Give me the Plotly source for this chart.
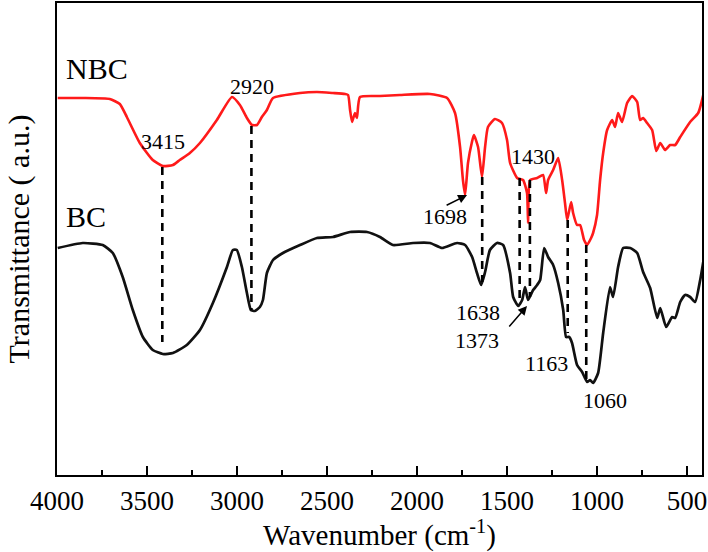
import plotly.graph_objects as go

# ---------------- data ----------------
# NBC spectrum (red)
nbc_wn = [3996, 3857, 3707, 3651, 3612, 3540, 3468, 3412, 3356, 3318, 3262, 3206, 3112,
          3028, 2984, 2945, 2917, 2889, 2862, 2834, 2800, 2650, 2556, 2467, 2400, 2383,
          2372, 2361, 2345, 2334, 2317, 2206, 2095, 1928, 1833, 1789, 1761, 1745, 1733,
          1717, 1695, 1684, 1661, 1639, 1622, 1606, 1567, 1528, 1500, 1483, 1444, 1411,
          1389, 1383, 1372, 1333, 1300, 1283, 1272, 1244, 1216, 1194, 1178, 1166, 1144,
          1133, 1111, 1094, 1072, 1055, 1033, 1022, 1000, 983, 966, 944, 916, 900, 883,
          861, 833, 805, 777, 761, 744, 722, 694, 671, 649, 622, 594, 566, 538, 483,
          438, 410]
nbc_t = [377, 377, 376, 371, 358, 332, 315, 309, 310, 315, 322, 332, 355,
         378, 370, 357, 350, 350, 358, 365, 377, 382, 383, 382, 381, 380,
         365, 353, 362, 357, 378, 379, 380, 381, 377, 362, 328, 295, 280,
         312, 333, 340, 328, 298, 328, 348, 356, 352, 335, 312, 297, 295,
         282, 252, 295, 297, 300, 282, 295, 305, 317, 295, 272, 255, 273,
         262, 250, 250, 235, 230, 237, 242, 260, 295, 322, 345, 355, 348, 362,
         353, 372, 379, 373, 355, 357, 352, 345, 324, 332, 325, 330, 330, 338, 353,
         362, 380]

# BC spectrum (black)
bc_wn = [3996, 3857, 3746, 3690, 3635, 3579, 3523, 3468, 3412, 3356, 3279, 3206, 3134,
         3056, 3023, 3001, 2973, 2945, 2923, 2901, 2873, 2856, 2834, 2800, 2745, 2650,
         2556, 2467, 2372, 2278, 2206, 2134, 2022, 1928, 1861, 1778, 1733, 1694, 1667,
         1644, 1622, 1595, 1556, 1522, 1483, 1466, 1438, 1416, 1400, 1383, 1355, 1333,
         1316, 1294, 1272, 1244, 1216, 1188, 1172, 1155, 1139, 1111, 1083, 1055, 1039,
         1022, 994, 966, 928, 911, 883, 855, 816, 777, 744, 705, 666, 649, 616, 583,
         566, 538, 511, 483, 455, 427, 410]
bc_t = [227, 232, 230, 222, 198, 165, 138, 125, 121, 122, 130, 145, 172,
        208, 225, 225, 208, 182, 165, 164, 168, 175, 202, 215, 222, 230,
        237, 238, 243, 243, 238, 230, 232, 232, 227, 232, 230, 218, 202,
        190, 203, 225, 232, 230, 202, 178, 169, 175, 188, 175, 185, 190,
        195, 227, 218, 210, 192, 165, 138, 138, 132, 110, 103, 93, 95,
        92, 102, 142, 188, 178, 208, 227, 227, 222, 203, 187, 157, 167, 148, 158,
        157, 173, 180, 178, 173, 195, 213]

# marked peaks: dashed guide lines
peak_wn = [3415, 2920, 1638, 1430, 1373, 1163, 1060]
peak_top = [308, 349, 298, 297, 295, 255, 230]
peak_bottom = [133, 165, 193, 175, 178, 142, 93]

# peak labels
label_text = ["3415", "2920", "1698", "1430", "1638", "1373", "1163", "1060"]
label_wn = [3412, 2917, 1844, 1355, 1661, 1667, 1283, 955]
label_t = [334, 389, 259, 319, 163, 135, 112, 75]

# arrows (tail -> head)
arrow_tail_wn = [1844, 1495]
arrow_tail_t = [269, 147]
arrow_head_wn = [1722, 1389]
arrow_head_t = [280, 169]

# series names
series_text = ["NBC", "BC"]
series_wn = [3779, 3840]
series_t = [407, 259]

x_ticks = [4000, 3500, 3000, 2500, 2000, 1500, 1000, 500]

FONT = "Liberation Serif, Times New Roman, serif"

fig = go.Figure()

fig.add_trace(go.Scatter(x=nbc_wn, y=nbc_t, mode="lines",
                         line=dict(color="#ff1a1a", width=2.6, shape="spline", smoothing=0.5),
                         showlegend=False))
fig.add_trace(go.Scatter(x=bc_wn, y=bc_t, mode="lines",
                         line=dict(color="#111111", width=2.7, shape="spline", smoothing=0.5),
                         showlegend=False))

for w, t0, t1 in zip(peak_wn, peak_top, peak_bottom):
    fig.add_trace(go.Scatter(x=[w, w], y=[t0, t1], mode="lines",
                             line=dict(color="black", width=2.6, dash="8px,6px"),
                             showlegend=False, hoverinfo="skip"))

annotations = []
for s, w, t in zip(label_text, label_wn, label_t):
    annotations.append(dict(x=w, y=t, xref="x", yref="y", text=s, showarrow=False,
                            font=dict(family=FONT, size=22, color="black")))
for s, w, t in zip(series_text, series_wn, series_t):
    annotations.append(dict(x=w, y=t, xref="x", yref="y", text=s, showarrow=False,
                            font=dict(family=FONT, size=30, color="black")))
for tw, tt, hw, ht in zip(arrow_tail_wn, arrow_tail_t, arrow_head_wn, arrow_head_t):
    annotations.append(dict(x=hw, y=ht, ax=tw, ay=tt, xref="x", yref="y",
                            axref="x", ayref="y", text="", showarrow=True,
                            arrowhead=2, arrowsize=1.2, arrowwidth=1.5, arrowcolor="black"))

fig.update_layout(
    width=708, height=552,
    margin=dict(l=57, r=6, t=3, b=77, autoexpand=False),
    paper_bgcolor="white", plot_bgcolor="white",
    font=dict(family=FONT, color="black"),
    annotations=annotations,
    xaxis=dict(
        range=[4000, 417], tickvals=x_ticks, ticks="inside", ticklen=9, tickwidth=2,
        tickcolor="black",
        minor=dict(dtick=250, ticks="inside", ticklen=5, tickwidth=2, tickcolor="black"),
        showline=True, linewidth=2.2, linecolor="black", mirror=True,
        showgrid=False, zeroline=False,
        tickfont=dict(family=FONT, size=27, color="black"),
        title=dict(text="Wavenumber (cm<sup>-1</sup>)", standoff=0,
                   font=dict(family=FONT, size=29, color="black")),
    ),
    yaxis=dict(
        range=[0, 472], showticklabels=False, ticks="",
        showline=True, linewidth=2.2, linecolor="black", mirror=True,
        showgrid=False, zeroline=False,
        title=dict(text="Transmittance ( a.u.)", standoff=16,
                   font=dict(family=FONT, size=30, color="black")),
    ),
)

fig.write_html("out.html", config={"displayModeBar": False},
               post_script="document.body.style.margin='0';")
